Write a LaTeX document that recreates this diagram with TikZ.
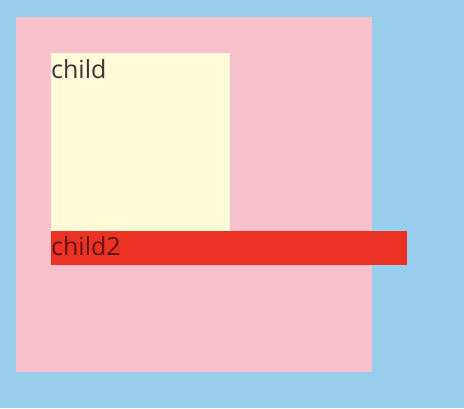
\documentclass[tikz,border=0pt]{standalone}
\usepackage{fontspec}
\setmainfont{Open Sans}
\definecolor{bgblue}{RGB}{152,204,235}
\definecolor{boxpink}{RGB}{246,193,204}
\definecolor{boxyellow}{RGB}{255,250,215}
\definecolor{boxred}{RGB}{236,50,36}
\definecolor{txt}{RGB}{55,55,55}
\definecolor{txtred}{RGB}{95,22,16}
\tikzset{
  lbl/.style={anchor=base west, inner sep=0pt, text=txt, font=\fontsize{25}{30}\selectfont},
}
\begin{document}
\begin{tikzpicture}[x=1pt,y=-1pt]
\fill[bgblue] (0,0) rectangle (464,408);
\useasboundingbox (0,0) rectangle (464,408);
\fill[boxpink] (16,17) rectangle (372,372);
\fill[boxyellow] (51,53) rectangle (230,231);
\node[lbl] (c1) at (51,78) {child};
\fill[boxred] (51,231) rectangle (407,265);
\node[lbl, text=txtred] (c2) at (51,255) {child2};
\end{tikzpicture}
\end{document}
